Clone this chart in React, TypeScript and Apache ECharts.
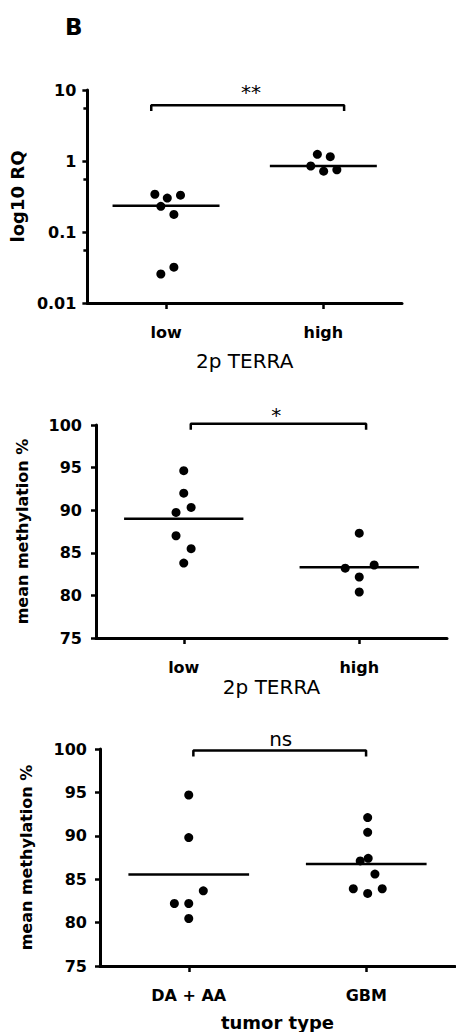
import React, { useEffect, useRef } from "react";
import * as echarts from "echarts";

// ---- Panel 1: 2p TERRA vs log10 RQ ----
const terraCategories = ["low", "high"];
const rqLow = [0.34, 0.3, 0.33, 0.23, 0.177, 0.032, 0.0256];
const rqLowJitter = [-0.071, 0.008, 0.092, -0.033, 0.05, 0.05, -0.033];
const rqHigh = [1.24, 1.15, 0.85, 0.72, 0.75];
const rqHighJitter = [-0.038, 0.044, -0.08, 0.002, 0.086];
const rqMedians = [0.235, 0.85];
const rqBracketX = [-0.094, 1.132];
const rqBracketY = [5.06, 6.1];
const rqSignif = { text: "**", x: 0.54, y: 9.4 };

// ---- Panel 2: 2p TERRA vs mean methylation ----
const methLow = [94.64, 92.0, 90.33, 89.74, 87.0, 85.48, 83.8];
const methLowJitter = [0, 0, 0.042, -0.044, -0.044, 0.042, 0];
const methHigh = [87.3, 83.2, 83.57, 82.16, 80.4];
const methHighJitter = [0, -0.08, 0.085, 0, 0];
const methMedians = [89.0, 83.29];
const methBracketX = [0.04, 1.039];
const methBracketY = [99.45, 100.15];
const methSignif = { text: "*", x: 0.527, y: 101.17 };

// ---- Panel 3: tumor type vs mean methylation ----
const tumorCategories = ["DA + AA", "GBM"];
const daaa = [94.7, 89.8, 83.66, 82.2, 82.2, 80.47];
const daaaJitter = [0, 0, 0.082, -0.081, 0, 0];
const gbm = [92.1, 90.4, 87.1, 87.4, 85.59, 83.9, 83.9, 83.36];
const gbmJitter = [0.008, 0.008, -0.034, 0.011, 0.049, -0.073, 0.09, 0.008];
const tumorMedians = [85.55, 86.74];
const tumorBracketX = [0.026, 0.999];
const tumorBracketY = [99.13, 99.83];
const tumorSignif = { text: "ns", x: 0.518, y: 101.17 };

const methTicks = [75, 80, 85, 90, 95, 100];

const FONT = "DejaVu Sans";
const BLACK = "#000";
const MEDIAN_HALF = 0.34;

function xAxisFor(gridIndex: number, cats: string[], name: string, nameGap: number, nameBold: boolean, nameSize: number) {
  return {
    type: "value",
    gridIndex,
    min: -0.5,
    max: 1.5,
    splitLine: { show: false },
    axisLine: { show: true, onZero: false, lineStyle: { color: BLACK, width: 3 } },
    axisTick: { show: true, customValues: [0, 1], length: 6, lineStyle: { color: BLACK, width: 2.5 } },
    axisLabel: {
      show: true,
      customValues: [0, 1],
      formatter: (v: number) => cats[Math.round(v)] ?? "",
      margin: 21,
      color: BLACK,
      fontFamily: FONT,
      fontWeight: "bold",
      fontSize: 16,
    },
    name,
    nameLocation: "middle",
    nameGap,
    nameTextStyle: { color: BLACK, fontFamily: FONT, fontSize: nameSize, fontWeight: nameBold ? "bold" : "normal" },
  };
}

function methYAxis(gridIndex: number, margin: number, nameGap: number) {
  return {
    type: "value",
    gridIndex,
    min: methTicks[0],
    max: methTicks[methTicks.length - 1],
    interval: 5,
    splitLine: { show: false },
    axisLine: { show: true, onZero: false, lineStyle: { color: BLACK, width: 3 } },
    axisTick: { show: true, length: 5, lineStyle: { color: BLACK, width: 2.5 } },
    axisLabel: { margin, color: BLACK, fontFamily: FONT, fontWeight: "bold", fontSize: 16 },
    name: "mean methylation %",
    nameLocation: "middle",
    nameGap,
    nameTextStyle: { color: BLACK, fontFamily: FONT, fontSize: 16, fontWeight: "bold" },
  };
}

function dots(idx: number, cat: number, vals: number[], jitter: number[]) {
  return {
    type: "scatter",
    xAxisIndex: idx,
    yAxisIndex: idx,
    symbol: "circle",
    symbolSize: 9,
    itemStyle: { color: BLACK, opacity: 1 },
    clip: false,
    data: vals.map((v, i) => [cat + jitter[i], v]),
  };
}

function median(idx: number, cat: number, m: number) {
  return {
    type: "line",
    xAxisIndex: idx,
    yAxisIndex: idx,
    symbol: "none",
    clip: false,
    itemStyle: { color: BLACK },
    lineStyle: { color: BLACK, width: 2.5 },
    data: [
      [cat - MEDIAN_HALF, m],
      [cat + MEDIAN_HALF, m],
    ],
  };
}

function bracket(idx: number, bx: number[], by: number[]) {
  return {
    type: "line",
    xAxisIndex: idx,
    yAxisIndex: idx,
    symbol: "none",
    clip: false,
    itemStyle: { color: BLACK },
    lineStyle: { color: BLACK, width: 2.5 },
    data: [
      [bx[0], by[0]],
      [bx[0], by[1]],
      [bx[1], by[1]],
      [bx[1], by[0]],
    ],
  };
}

function signif(idx: number, s: { text: string; x: number; y: number }) {
  return {
    type: "scatter",
    xAxisIndex: idx,
    yAxisIndex: idx,
    symbolSize: 0,
    clip: false,
    silent: true,
    itemStyle: { color: BLACK, opacity: 1 },
    label: {
      show: true,
      position: "inside",
      formatter: s.text,
      color: BLACK,
      textBorderWidth: 0,
      opacity: 1,
      fontFamily: FONT,
      fontSize: 20,
    },
    data: [[s.x, s.y]],
  };
}

export default function App() {
  const ref = useRef<HTMLDivElement>(null);
  useEffect(() => {
    if (!ref.current) return;
    const chart = echarts.init(ref.current, undefined, { renderer: "svg" });
    chart.setOption({
      animation: false,
      backgroundColor: "#fff",
      title: {
        text: "B",
        left: 60,
        top: 10,
        textStyle: { color: BLACK, fontFamily: FONT, fontSize: 23, fontWeight: "bold" },
      },
      grid: [
        { left: 83, top: 90, width: 319, height: 213 },
        { left: 96, top: 425, width: 351, height: 213 },
        { left: 100, top: 749, width: 355, height: 217 },
      ],
      xAxis: [
        xAxisFor(0, terraCategories, "2p TERRA", 48, false, 20),
        xAxisFor(1, terraCategories, "2p TERRA", 39, false, 20),
        xAxisFor(2, tumorCategories, "tumor type", 47, true, 18),
      ],
      yAxis: [
        {
          type: "log",
          logBase: 10,
          gridIndex: 0,
          min: 0.01,
          max: 10,
          splitLine: { show: false },
          axisLine: { show: true, onZero: false, lineStyle: { color: BLACK, width: 3 } },
          axisTick: { show: true, length: 5, lineStyle: { color: BLACK, width: 2.5 } },
          minorTick: { show: true, splitNumber: 2, length: 4, lineStyle: { color: BLACK, width: 2.5 } },
          axisLabel: { margin: 11, color: BLACK, fontFamily: FONT, fontWeight: "bold", fontSize: 16 },
          name: "log10 RQ",
          nameLocation: "middle",
          nameGap: 49,
          nameTextStyle: { color: BLACK, fontFamily: FONT, fontSize: 18, fontWeight: "bold" },
        },
        methYAxis(1, 14, 66),
        methYAxis(2, 13, 66),
      ],
      series: [
        dots(0, 0, rqLow, rqLowJitter),
        dots(0, 1, rqHigh, rqHighJitter),
        median(0, 0, rqMedians[0]),
        median(0, 1, rqMedians[1]),
        bracket(0, rqBracketX, rqBracketY),
        signif(0, rqSignif),

        dots(1, 0, methLow, methLowJitter),
        dots(1, 1, methHigh, methHighJitter),
        median(1, 0, methMedians[0]),
        median(1, 1, methMedians[1]),
        bracket(1, methBracketX, methBracketY),
        signif(1, methSignif),

        dots(2, 0, daaa, daaaJitter),
        dots(2, 1, gbm, gbmJitter),
        median(2, 0, tumorMedians[0]),
        median(2, 1, tumorMedians[1]),
        bracket(2, tumorBracketX, tumorBracketY),
        signif(2, tumorSignif),
      ],
    });
    return () => chart.dispose();
  }, []);
  return (
    <div
      ref={ref}
      style={{ position: "absolute", left: 0, top: 0, width: 456, height: 1032, background: "#fff" }}
    />
  );
}
